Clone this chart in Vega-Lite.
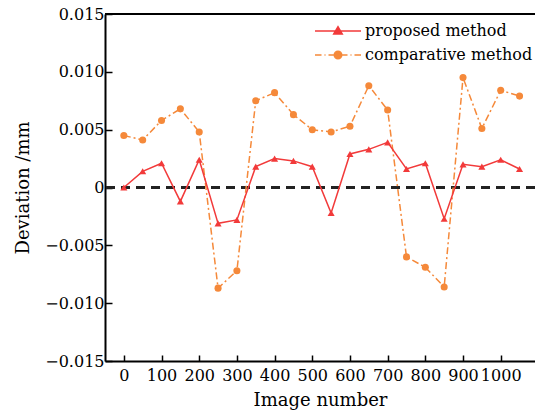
{
  "$schema": "https://vega.github.io/schema/vega-lite/v6.json",
  "width": 430,
  "height": 347,
  "autosize": {"type": "none"},
  "padding": {"left": 105, "top": 14, "right": 0, "bottom": 51},
  "background": "white",
  "config": {
    "font": "DejaVu Serif",
    "view": {"stroke": null},
    "axis": {
      "labelFont": "DejaVu Serif", "titleFont": "DejaVu Serif",
      "labelFontSize": 16, "titleFontSize": 18, "titleFontWeight": "normal",
      "labelColor": "black", "titleColor": "black",
      "domainColor": "black", "domainWidth": 2,
      "tickColor": "black", "tickWidth": 1.5, "grid": false
    }
  },
  "data": {"values": [
    {"image": 0, "method": "proposed method", "deviation": 0.0000},
    {"image": 50, "method": "proposed method", "deviation": 0.0014},
    {"image": 100, "method": "proposed method", "deviation": 0.0021},
    {"image": 150, "method": "proposed method", "deviation": -0.0012},
    {"image": 200, "method": "proposed method", "deviation": 0.0024},
    {"image": 250, "method": "proposed method", "deviation": -0.0031},
    {"image": 300, "method": "proposed method", "deviation": -0.0028},
    {"image": 350, "method": "proposed method", "deviation": 0.0018},
    {"image": 400, "method": "proposed method", "deviation": 0.0025},
    {"image": 450, "method": "proposed method", "deviation": 0.0023},
    {"image": 500, "method": "proposed method", "deviation": 0.0018},
    {"image": 550, "method": "proposed method", "deviation": -0.0022},
    {"image": 600, "method": "proposed method", "deviation": 0.0029},
    {"image": 650, "method": "proposed method", "deviation": 0.0033},
    {"image": 700, "method": "proposed method", "deviation": 0.0039},
    {"image": 750, "method": "proposed method", "deviation": 0.0016},
    {"image": 800, "method": "proposed method", "deviation": 0.0021},
    {"image": 850, "method": "proposed method", "deviation": -0.0027},
    {"image": 900, "method": "proposed method", "deviation": 0.0020},
    {"image": 950, "method": "proposed method", "deviation": 0.0018},
    {"image": 1000, "method": "proposed method", "deviation": 0.0024},
    {"image": 1050, "method": "proposed method", "deviation": 0.0016},
    {"image": 0, "method": "comparative method", "deviation": 0.0045},
    {"image": 50, "method": "comparative method", "deviation": 0.0041},
    {"image": 100, "method": "comparative method", "deviation": 0.0058},
    {"image": 150, "method": "comparative method", "deviation": 0.0068},
    {"image": 200, "method": "comparative method", "deviation": 0.0048},
    {"image": 250, "method": "comparative method", "deviation": -0.0087},
    {"image": 300, "method": "comparative method", "deviation": -0.0072},
    {"image": 350, "method": "comparative method", "deviation": 0.0075},
    {"image": 400, "method": "comparative method", "deviation": 0.0082},
    {"image": 450, "method": "comparative method", "deviation": 0.0063},
    {"image": 500, "method": "comparative method", "deviation": 0.0050},
    {"image": 550, "method": "comparative method", "deviation": 0.0048},
    {"image": 600, "method": "comparative method", "deviation": 0.0053},
    {"image": 650, "method": "comparative method", "deviation": 0.0088},
    {"image": 700, "method": "comparative method", "deviation": 0.0067},
    {"image": 750, "method": "comparative method", "deviation": -0.0060},
    {"image": 800, "method": "comparative method", "deviation": -0.0069},
    {"image": 850, "method": "comparative method", "deviation": -0.0086},
    {"image": 900, "method": "comparative method", "deviation": 0.0095},
    {"image": 950, "method": "comparative method", "deviation": 0.0051},
    {"image": 1000, "method": "comparative method", "deviation": 0.0084},
    {"image": 1050, "method": "comparative method", "deviation": 0.0079}
  ]},
  "layer": [
    {
      "mark": {"type": "rule", "color": "black", "strokeWidth": 2},
      "encoding": {"y": {"datum": 0.015, "type": "quantitative", "scale": {"domain": [-0.015, 0.015], "nice": false}}}
    },
    {
      "mark": {"type": "rule", "color": "#222222", "strokeWidth": 2, "strokeDash": [9, 6]},
      "encoding": {"y": {"datum": 0, "type": "quantitative"}}
    },
    {
      "transform": [{"filter": "datum.method == 'comparative method'"}],
      "mark": {"type": "line", "strokeWidth": 1.5, "color": "#f5893a", "strokeDash": [7, 3, 2, 3]},
      "encoding": {
        "x": {"field": "image", "type": "quantitative",
              "scale": {"domain": [-50, 1091], "nice": false, "zero": false},
              "axis": {"values": [0, 100, 200, 300, 400, 500, 600, 700, 800, 900, 1000], "format": "d", "labelOverlap": false, "labelFlush": false, "tickSize": -6, "labelPadding": 12, "title": "Image number", "titlePadding": 8}},
        "y": {"field": "deviation", "type": "quantitative",
              "axis": {"values": [-0.015, -0.01, -0.005, 0, 0.005, 0.01, 0.015], "labelOverlap": false, "labelFlush": false, "tickSize": -7, "labelPadding": 8, "labelExpr": "datum.value == 0 ? '0' : format(datum.value, '.3f')", "title": "Deviation /mm", "titlePadding": 12}},
        "order": {"field": "image", "type": "quantitative"}
      }
    },
    {
      "transform": [{"filter": "datum.method == 'proposed method'"}],
      "mark": {"type": "line", "strokeWidth": 1.5, "color": "#f23a3a"},
      "encoding": {
        "x": {"field": "image", "type": "quantitative"},
        "y": {"field": "deviation", "type": "quantitative"},
        "order": {"field": "image", "type": "quantitative"}
      }
    },
    {
      "transform": [{"filter": "datum.method == 'proposed method'"}],
      "mark": {"type": "point", "shape": "triangle-up", "filled": true, "opacity": 1, "size": 50, "color": "#f23a3a"},
      "encoding": {
        "x": {"field": "image", "type": "quantitative"},
        "y": {"field": "deviation", "type": "quantitative"}
      }
    },
    {
      "transform": [{"filter": "datum.method == 'comparative method'"}],
      "mark": {"type": "point", "shape": "circle", "filled": true, "opacity": 1, "size": 50, "color": "#f5893a"},
      "encoding": {
        "x": {"field": "image", "type": "quantitative"},
        "y": {"field": "deviation", "type": "quantitative"}
      }
    },
    {
      "mark": {"type": "point", "opacity": 0, "size": 100, "filled": true},
      "encoding": {
        "x": {"field": "image", "type": "quantitative"},
        "y": {"field": "deviation", "type": "quantitative"},
        "color": {"field": "method", "type": "nominal",
          "scale": {"domain": ["proposed method", "comparative method"], "range": ["#f23a3a", "#f5893a"]},
          "legend": {"title": null, "orient": "none", "legendX": 225, "legendY": 9,
            "symbolSize": 100, "labelFont": "DejaVu Serif", "labelFontSize": 16, "labelColor": "black",
            "labelLimit": 0, "labelOffset": 19, "rowPadding": 8, "symbolStrokeWidth": 1.5, "symbolOpacity": 1,
            "encode": {"symbols": {"update": {
              "fill": {"signal": "scale('color', datum.value)"},
              "stroke": {"signal": "scale('color', datum.value)"},
              "strokeWidth": {"value": 1.5},
              "opacity": {"value": 1}
            }}}}},
        "shape": {"field": "method", "type": "nominal",
          "scale": {"domain": ["proposed method", "comparative method"],
            "range": [
              "M-4.6,0H4.6M-0.85,0.6L0,-0.85L0.85,0.6Z",
              "M-4.6,0H-3.3M-2.7,0H-2.5M-1.9,0H-0.8M0.8,0H1.9M2.5,0H2.7M3.3,0H4.6M-0.75,0A0.75,0.75 0 1,0 0.75,0A0.75,0.75 0 1,0 -0.75,0Z"
            ]}}
      }
    }
  ]
}
